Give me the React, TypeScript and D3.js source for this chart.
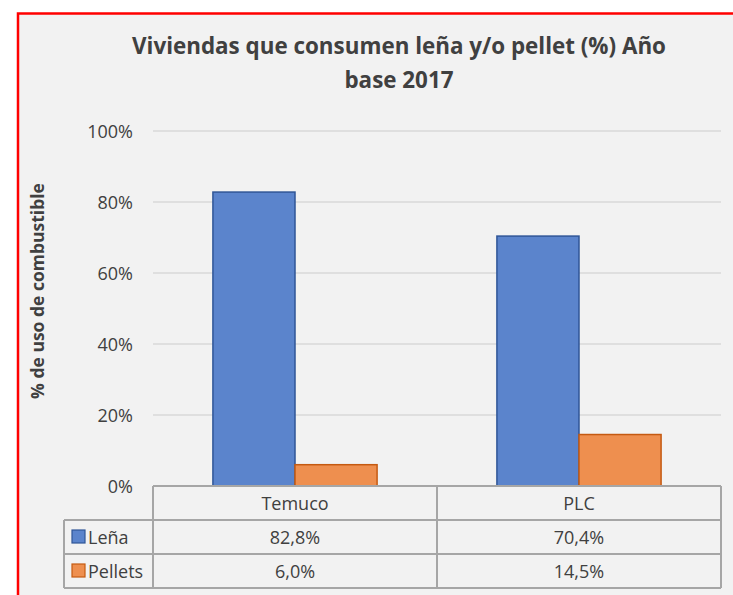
import React from "react";
import * as d3 from "d3";

const categories = ["Temuco", "PLC"];
const series = ["Leña", "Pellets"];
const lena = [0.828, 0.704];
const pellets = [0.06, 0.145];
const yTicks = [0, 0.2, 0.4, 0.6, 0.8, 1.0];

const fills = ["#5b84cc", "#ee8f4f"];
const strokes = ["#2f5597", "#c55a11"];
const font = "'Open Sans', 'Noto Sans', sans-serif";
const textColor = "#404040";

const fmtTick = (v: number) => Math.round(v * 100) + "%";
const fmtCell = (v: number) => (v * 100).toFixed(1).replace(".", ",") + "%";

export default function App() {
  const values = [lena, pellets];

  const plotLeft = 153;
  const plotRight = 721;
  const y = d3.scaleLinear().domain([0, 1]).range([486, 131]);
  const x = d3.scaleBand<string>().domain(categories).range([plotLeft, plotRight]);
  const xInner = d3
    .scaleBand<string>()
    .domain(series)
    .range([0, x.bandwidth()])
    .paddingInner(0)
    .paddingOuter(0.73);

  const tableTop = y(0);
  const rowH = 34;
  const legendLeft = 64;
  const gridColor = "#d9d9d9";
  const tableColor = "#a6a6a6";

  return (
    <svg
      width={733}
      height={595}
      style={{ position: "absolute", left: 0, top: 0 }}
      fontFamily={font}
    >
      <rect x={0} y={0} width={733} height={595} fill="#ffffff" />
      <rect x={18} y={13.5} width={740} height={600} fill="#f2f2f2" stroke="#ff0000" strokeWidth={2.5} />

      {/* title */}
      <text x={399} y={54} textAnchor="middle" fontSize={22.4} fontWeight="bold" fill={textColor}>
        Viviendas que consumen leña y/o pellet (%) Año
      </text>
      <text x={399} y={88} textAnchor="middle" fontSize={22.4} fontWeight="bold" fill={textColor}>
        base 2017
      </text>

      {/* y axis title */}
      <text
        transform={`translate(44, ${291}) rotate(-90)`}
        textAnchor="middle"
        fontSize={17.5}
        fontWeight="bold"
        fill={textColor}
      >
        % de uso de combustible
      </text>

      {/* grid + ticks */}
      {yTicks.map((t) => (
        <g key={t}>
          {t > 0 && (
            <line x1={plotLeft} x2={plotRight} y1={y(t)} y2={y(t)} stroke={gridColor} strokeWidth={1.5} />
          )}
          <text x={133} y={y(t) + 6.5} textAnchor="end" fontSize={18} fill={textColor}>
            {fmtTick(t)}
          </text>
        </g>
      ))}

      {/* bars */}
      {categories.map((c, ci) =>
        series.map((s, si) => (
          <rect
            key={c + s}
            x={(x(c) as number) + (xInner(s) as number)}
            y={y(values[si][ci])}
            width={xInner.bandwidth()}
            height={y(0) - y(values[si][ci])}
            fill={fills[si]}
            stroke={strokes[si]}
            strokeWidth={1.5}
          />
        ))
      )}

      {/* data table */}
      <g stroke={tableColor} strokeWidth={2} fill="none">
        <line x1={plotLeft} x2={plotRight} y1={tableTop} y2={tableTop} />
        {series.map((s, si) => (
          <line key={s} x1={legendLeft} x2={plotRight} y1={tableTop + rowH * (si + 1)} y2={tableTop + rowH * (si + 1)} />
        ))}
        <line x1={legendLeft} x2={plotRight} y1={tableTop + rowH * 3} y2={tableTop + rowH * 3} />
        <line x1={legendLeft} x2={legendLeft} y1={tableTop + rowH} y2={tableTop + rowH * 3} />
        <line x1={plotLeft} x2={plotLeft} y1={tableTop} y2={tableTop + rowH * 3} />
        {categories.map((c) => (
          <line
            key={c}
            x1={(x(c) as number) + x.bandwidth()}
            x2={(x(c) as number) + x.bandwidth()}
            y1={tableTop}
            y2={tableTop + rowH * 3}
          />
        ))}
      </g>

      {categories.map((c) => (
        <text
          key={c}
          x={(x(c) as number) + x.bandwidth() / 2}
          y={tableTop + 23.5}
          textAnchor="middle"
          fontSize={18}
          fill={textColor}
        >
          {c}
        </text>
      ))}

      {series.map((s, si) => (
        <g key={s}>
          <rect
            x={legendLeft + 8}
            y={tableTop + rowH * (si + 1) + 10}
            width={13}
            height={13}
            fill={fills[si]}
            stroke={strokes[si]}
            strokeWidth={1.2}
          />
          <text x={legendLeft + 24} y={tableTop + rowH * (si + 1) + 23.5} fontSize={18} fill={textColor}>
            {s}
          </text>
          {categories.map((c, ci) => (
            <text
              key={c}
              x={(x(c) as number) + x.bandwidth() / 2}
              y={tableTop + rowH * (si + 1) + 23.5}
              textAnchor="middle"
              fontSize={18}
              fill={textColor}
            >
              {fmtCell(values[si][ci])}
            </text>
          ))}
        </g>
      ))}
    </svg>
  );
}
